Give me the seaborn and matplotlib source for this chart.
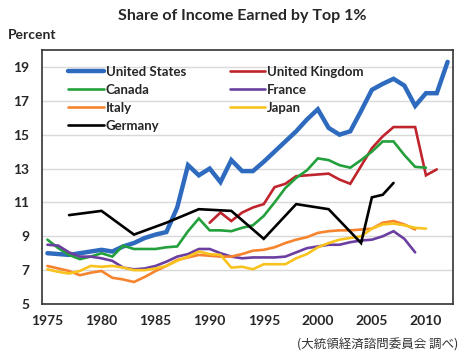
"""Share of income earned by the top 1%, seven countries."""
import numpy as np
import pandas as pd
import matplotlib
matplotlib.use("Agg")
import matplotlib.pyplot as plt
import seaborn as sns

years = list(range(1975, 2013))
na = np.nan

united_states = [8.0, 7.95, 7.9, 8.0, 8.1, 8.2, 8.1, 8.4, 8.6, 8.9,
                 9.1, 9.25, 10.7, 13.2, 12.6, 13.0, 12.2, 13.5, 12.85, 12.85,
                 13.4, 14.0, 14.6, 15.2, 15.9, 16.5, 15.4, 15.0, 15.2, 16.4,
                 17.65, 18.0, 18.3, 17.9, 16.7, 17.45, 17.45, 19.3]
united_kingdom = [na] * 15 + [9.8, 10.4, 9.9, 10.4, 10.7,
                              10.9, 11.9, 12.1, 12.55, 12.6, 12.65, 12.7, 12.35, 12.1, 13.15,
                              14.2, 14.9, 15.45, 15.45, 15.45, 12.6, 12.95, na]
canada = [8.8, 8.3, 7.9, 7.65, 7.8, 8.0, 7.8, 8.45, 8.25, 8.25,
          8.25, 8.35, 8.4, 9.3, 10.05, 9.35, 9.35, 9.3, 9.5, 9.65,
          10.2, 11.0, 11.85, 12.45, 12.9, 13.6, 13.5, 13.2, 13.05, 13.5,
          14.0, 14.6, 14.6, 13.8, 13.1, 13.05, na, na]
france = [8.5, 8.45, 8.05, 7.8, 7.8, 7.7, 7.55, 7.15, 7.05, 7.1,
          7.25, 7.5, 7.8, 7.95, 8.25, 8.25, 8.0, 7.8, 7.7, 7.75,
          7.75, 7.75, 7.8, 8.05, 8.3, 8.4, 8.5, 8.5, 8.65, 8.75,
          8.8, 9.0, 9.3, 8.85, 8.05, na, na, na]
italy = [7.25, 7.1, 6.95, 6.7, 6.85, 6.95, 6.55, 6.45, 6.3, 6.6,
         6.95, 7.25, 7.6, 7.75, 7.9, 7.85, 7.8, 7.8, 7.95, 8.15,
         8.2, 8.35, 8.6, 8.8, 8.95, 9.2, 9.3, 9.35, 9.35, 9.4,
         9.45, 9.8, 9.9, 9.7, 9.4, na, na, na]
japan = [7.05, 6.9, 6.8, 6.95, 7.25, 7.2, 7.25, 7.15, 7.0, 7.0,
         7.1, 7.25, 7.55, 7.8, 8.1, 7.95, 7.9, 7.15, 7.2, 7.05,
         7.35, 7.35, 7.35, 7.7, 7.95, 8.35, 8.6, 8.8, 8.9, 9.0,
         9.45, 9.7, 9.75, 9.65, 9.5, 9.45, na, na]
germany_years = [1977, 1980, 1983, 1986, 1989, 1992, 1995, 1998, 2001, 2004, 2005, 2006, 2007]
germany_vals = [10.25, 10.5, 9.1, 9.8, 10.6, 10.5, 8.85, 10.9, 10.6, 8.6, 11.3, 11.45, 12.15]
germany = [germany_vals[germany_years.index(y)] if y in germany_years else na for y in years]

series = {
    "United States": united_states,
    "United Kingdom": united_kingdom,
    "Canada": canada,
    "France": france,
    "Italy": italy,
    "Japan": japan,
    "Germany": germany,
}
colors = {
    "United States": "#2e6bbf",
    "United Kingdom": "#c0242c",
    "Canada": "#23a03c",
    "France": "#6b3fa0",
    "Italy": "#f6842e",
    "Japan": "#f9c31f",
    "Germany": "#000000",
}
# legend is filled row by row in the original
legend_order = ["United States", "Canada", "Italy", "Germany",
                "United Kingdom", "France", "Japan"]

sns.set_style("white")
plt.rcParams["font.family"] = ["Lato", "DejaVu Sans"]

df = pd.DataFrame({"year": years, **series})
long = df.melt(id_vars="year", var_name="country", value_name="share").dropna()
long["pos"] = long["year"] + 0.5  # Excel category axis: points sit mid-category

fig = plt.figure(figsize=(4.69, 3.58), dpi=100)
ax = fig.add_axes([0.0896, 0.1508, 0.8763, 0.7095])

handles = {}
for name in series:
    sub = long[long["country"] == name]
    lw = 3.2 if name == "United States" else 1.9
    sns.lineplot(data=sub, x="pos", y="share", color=colors[name], linewidth=lw,
                 label=name, ax=ax, legend=False, solid_joinstyle="miter")
    handles[name] = ax.lines[-1]

ax.set_xlim(1975, 2013)
ax.set_ylim(5, 20)
ax.set_yticks(range(5, 20, 2))
ax.set_xticks(range(1975, 2011, 5))
ax.set_xticklabels([])
ax.set_xticks([y + 0.5 for y in range(1975, 2011, 5)], minor=True)
ax.set_xticklabels([str(y) for y in range(1975, 2011, 5)], minor=True)
ax.tick_params(axis="x", which="major", direction="in", length=4, width=1, color="#333333")
ax.tick_params(axis="x", which="minor", length=0, pad=8, labelsize=10)
ax.tick_params(axis="y", direction="in", length=4, width=1, color="#333333", labelsize=10, pad=9)
for lab in ax.get_xticklabels(minor=True) + ax.get_yticklabels():
    lab.set_fontweight("bold")
ax.set_xlabel("")
ax.set_ylabel("")
ax.grid(axis="y", color="#d9d9d9", linewidth=1)
ax.set_axisbelow(True)
for sp in ax.spines.values():
    sp.set_color("#333333")
    sp.set_linewidth(1.2)

ax.legend([handles[n] for n in legend_order], legend_order, ncol=2, loc="upper left",
          bbox_to_anchor=(0.035, 0.985), frameon=False, handlelength=2.7,
          handletextpad=0.15, labelspacing=0.45, columnspacing=3.3,
          prop={"size": 9.5, "weight": "bold"})

fig.text(0.516, 0.955, "Share of Income Earned by Top 1%", ha="center", va="center",
         fontsize=11.5, fontweight="bold")
fig.text(0.017, 0.902, "Percent", ha="left", va="center", fontsize=10, fontweight="bold")
fig.text(0.977, 0.036, "(大統領経済諮問委員会 調べ)", ha="right", va="center",
         fontsize=9, family=["Noto Sans CJK JP", "DejaVu Sans"], color="#333333")

fig.savefig("out.png", dpi=100)
